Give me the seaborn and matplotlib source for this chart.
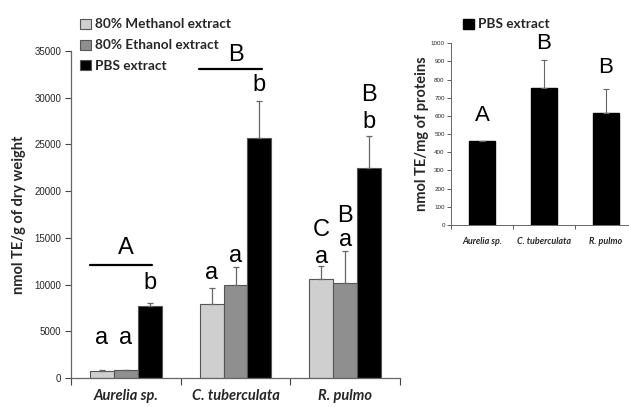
import numpy as np
import pandas as pd
import matplotlib
matplotlib.use("Agg")
import matplotlib.pyplot as plt
from matplotlib.patches import Patch
import seaborn as sns

# Values
SPECIES = ["Aurelia sp.", "C. tuberculata", "R. pulmo"]
EXTRACTS = ["80% Methanol extract", "80% Ethanol extract", "PBS extract"]
METHANOL = [760, 7930, 10570]
METHANOL_ERR = [60, 1710, 1430]
ETHANOL = [850, 9960, 10140]
ETHANOL_ERR = [20, 1940, 3460]
PBS = [7700, 25700, 22500]
PBS_ERR = [300, 3900, 3400]
PROTEIN = [460, 756, 618]
PROTEIN_ERR = [5, 152, 129]

# significance letters (text, species index, extract index, y)
LETTERS_LEFT = [
    ("a", 0, 0, 4300), ("a", 0, 1, 4300), ("b", 0, 2, 10200),
    ("a", 1, 0, 11200), ("a", 1, 1, 13050), ("b", 1, 2, 31400),
    ("a", 2, 0, 13000), ("C", 2, 0, 15850),
    ("a", 2, 1, 14800), ("B", 2, 1, 17300),
    ("b", 2, 2, 27450), ("B", 2, 2, 30300),
]
GROUP_LETTERS = [("A", 0, 12100, 13900), ("B", 1, 33100, 34600)]
LETTERS_RIGHT = [("A", 600), ("B", 1000), ("B", 868)]

COLORS = ["#cfcfcf", "#8f8f8f", "#000000"]

df = pd.DataFrame({
    "species": SPECIES * 3,
    "extract": np.repeat(EXTRACTS, 3),
    "value": METHANOL + ETHANOL + PBS,
})
errs = [METHANOL_ERR, ETHANOL_ERR, PBS_ERR]

sns.set_theme(style="white")
plt.rcParams["font.family"] = ["Liberation Sans", "DejaVu Sans"]
LABEL_FONT = ["Lato", "DejaVu Sans"]

fig = plt.figure(figsize=(6.29, 4.07), dpi=100)
ax = fig.add_axes([71 / 629, 1 - 378 / 407, 329 / 629, 327 / 407])

sns.barplot(data=df, x="species", y="value", hue="extract", order=SPECIES,
            hue_order=EXTRACTS, palette=COLORS, saturation=1, width=0.655,
            errorbar=None, edgecolor="#555555", linewidth=0.8, legend=False, ax=ax)

centers = {}
bar_conts = list(ax.containers)
for i, cont in enumerate(bar_conts):
    xs = [p.get_x() + p.get_width() / 2 for p in cont.patches]
    hs = [p.get_height() for p in cont.patches]
    for j, x in enumerate(xs):
        centers[(j, i)] = x
    ax.errorbar(xs, hs, yerr=[np.zeros(3), errs[i]], fmt="none",
                ecolor="#666666", elinewidth=0.9, capsize=2.5, capthick=0.9)

ax.set_ylim(0, 35000)
ax.set_xlim(-0.5, 2.5)
ax.set_yticks(range(0, 35001, 5000))
ax.set_xlabel("")
ax.set_ylabel("nmol TE/g of dry weight", family=LABEL_FONT,
              fontweight="bold", fontsize=10.5, labelpad=6)
ax.tick_params(axis="y", labelsize=7, length=4, width=0.8, color="#444444",
               left=True, pad=3)
ax.set_xticks([0, 1, 2])
ax.set_xticklabels(SPECIES, family=LABEL_FONT, fontweight="bold",
                   fontstyle="italic", fontsize=10.5)
ax.tick_params(axis="x", length=0, pad=8)
ax.set_xticks([-0.5, 0.5, 1.5, 2.5], minor=True)
ax.tick_params(axis="x", which="minor", length=5, width=0.8, color="#444444",
               bottom=True, direction="out")
for s in ["top", "right"]:
    ax.spines[s].set_visible(False)
for s in ["left", "bottom"]:
    ax.spines[s].set_color("#666666")
    ax.spines[s].set_linewidth(0.9)

for txt, j, i, y in LETTERS_LEFT:
    ax.text(centers[(j, i)], y, txt, ha="center", va="center", fontsize=17,
            color="black")
for txt, j, yl, yt in GROUP_LETTERS:
    x0 = centers[(j, 0)] - 0.11
    x1 = centers[(j, 2)] + 0.02
    ax.plot([x0, x1], [yl, yl], color="black", lw=1.6, clip_on=False)
    ax.text(j, yt, txt, ha="center", va="center", fontsize=17, color="black")

handles = [Patch(facecolor=c, edgecolor="#555555", linewidth=0.8) for c in COLORS]
fig.legend(handles, EXTRACTS, loc="upper left", bbox_to_anchor=(75 / 629, 1 - 13 / 407),
           frameon=False, handlelength=0.75, handleheight=0.75, handletextpad=0.3,
           labelspacing=0.65, borderaxespad=0,
           prop={"family": LABEL_FONT, "weight": "bold", "size": 9.8})

# right panel: PBS per mg protein
ax2 = fig.add_axes([451 / 629, 1 - 225 / 407, 178 / 629, 181.7 / 407])
dfp = pd.DataFrame({"species": SPECIES, "value": PROTEIN})
sns.barplot(data=dfp, x="species", y="value", order=SPECIES, color="black",
            saturation=1, width=0.41, errorbar=None, edgecolor="black", ax=ax2)
px = [p.get_x() + p.get_width() / 2 for p in ax2.patches]
ax2.errorbar(px, PROTEIN, yerr=[np.zeros(3), PROTEIN_ERR], fmt="none",
             ecolor="#666666", elinewidth=0.8, capsize=2, capthick=0.8)
ax2.set_ylim(0, 1000)
ax2.set_xlim(-0.5, -0.5 + 178 / 62)
ax2.set_yticks(range(0, 1001, 100))
ax2.set_xlabel("")
ax2.set_ylabel("nmol TE/mg of proteins", family=LABEL_FONT,
               fontweight="bold", fontsize=10.5, labelpad=1)
ax2.tick_params(axis="y", labelsize=4.5, length=3, width=0.6, color="#444444",
                left=True, pad=1.5)
ax2.set_xticks([0, 1, 2])
ax2.set_xticklabels(SPECIES, family=LABEL_FONT, fontweight="bold",
                    fontstyle="italic", fontsize=6.5)
ax2.tick_params(axis="x", length=0, pad=9)
ax2.set_xticks([-0.5, 0.5, 1.5], minor=True)
ax2.tick_params(axis="x", which="minor", length=3, width=0.6, color="#444444",
                bottom=True, direction="out")
for s in ["top", "right"]:
    ax2.spines[s].set_visible(False)
for s in ["left", "bottom"]:
    ax2.spines[s].set_color("#666666")
    ax2.spines[s].set_linewidth(0.7)
for j, (txt, y) in enumerate(LETTERS_RIGHT):
    ax2.text(j, y, txt, ha="center", va="center", fontsize=16, color="black",
             clip_on=False)

fig.legend([Patch(facecolor="black", edgecolor="black")], ["PBS extract"],
           loc="upper left", bbox_to_anchor=(458 / 629, 1 - 13 / 407), frameon=False,
           handlelength=0.75, handleheight=0.75, handletextpad=0.3, borderaxespad=0,
           prop={"family": LABEL_FONT, "weight": "bold", "size": 9.8})

fig.savefig("out.png", dpi=100)
